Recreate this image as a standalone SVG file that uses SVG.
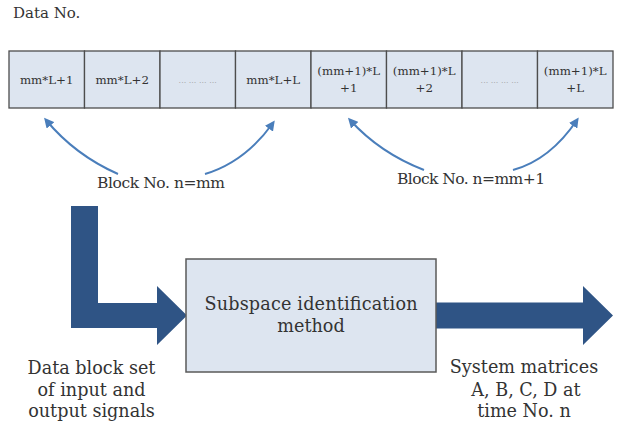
<svg xmlns="http://www.w3.org/2000/svg" width="625" height="428" viewBox="0 0 625 428">
  <style>
    text { font-family: "DejaVu Serif", "Liberation Serif", serif; fill: #333333; }
    .cell rect { fill: #dde5f0; stroke: #4d4d4d; stroke-width: 1.3; }
    .cellText { font-size: 11.8px; text-anchor: middle; }
    .dots { font-size: 8px; text-anchor: middle; fill: #9a9a9a; }
    .label { font-size: 15.5px; text-anchor: middle; }
    .big { font-size: 17.6px; text-anchor: middle; }
    .curve { fill: none; stroke: #4a7ebb; stroke-width: 2; }
    .flow { fill: #2f5485; }
    .box { fill: #dde5f0; stroke: #5a5a5a; stroke-width: 1.5; }
  </style>
  <defs>
    <marker id="tip" viewBox="0 0 10 10" refX="7" refY="5" markerWidth="10" markerHeight="10" markerUnits="userSpaceOnUse" orient="auto">
      <path d="M0,0 L10,5 L0,10 z" fill="#4a7ebb"/>
    </marker>
  </defs>

  <!-- heading -->
  <text id="data-no" x="13" y="18" style="font-size:15px">Data No.</text>

  <!-- data sequence row -->
  <g id="cell-1" class="cell"><rect x="9" y="51" width="75.5" height="57"/><text class="cellText" x="46.7" y="84">mm*L+1</text></g>
  <g id="cell-2" class="cell"><rect x="84.5" y="51" width="75.5" height="57"/><text class="cellText" x="122.2" y="84">mm*L+2</text></g>
  <g id="cell-3" class="cell"><rect x="160" y="51" width="75.5" height="57"/><text class="dots" x="197.7" y="83">... ... ... ...</text></g>
  <g id="cell-4" class="cell"><rect x="235.5" y="51" width="75.5" height="57"/><text class="cellText" x="273.2" y="84">mm*L+L</text></g>
  <g id="cell-5" class="cell"><rect x="311" y="51" width="75.5" height="57"/><text class="cellText" x="348.7" y="75">(mm+1)*L</text><text class="cellText" x="348.7" y="92">+1</text></g>
  <g id="cell-6" class="cell"><rect x="386.5" y="51" width="75.5" height="57"/><text class="cellText" x="424.2" y="75">(mm+1)*L</text><text class="cellText" x="424.2" y="92">+2</text></g>
  <g id="cell-7" class="cell"><rect x="462" y="51" width="75.5" height="57"/><text class="dots" x="499.7" y="83">... ... ... ...</text></g>
  <g id="cell-8" class="cell"><rect x="537.5" y="51" width="75.5" height="57"/><text class="cellText" x="575.2" y="75">(mm+1)*L</text><text class="cellText" x="575.2" y="92">+L</text></g>

  <!-- block labels -->
  <g id="block-mm"><text class="label" x="161" y="188" textLength="128">Block No. n=mm</text></g>
  <g id="block-mm1"><text class="label" x="471" y="184" textLength="148">Block No. n=mm+1</text></g>

  <!-- connectors -->
  <g id="connectors">
    <path class="curve" d="M118,174 Q75,155 46,120" marker-end="url(#tip)"/>
    <path class="curve" d="M205,174 Q245,162 273,123" marker-end="url(#tip)"/>
    <path class="curve" d="M424,170 Q380,153 350,120" marker-end="url(#tip)"/>
    <path class="curve" d="M513,170 Q550,160 577,120" marker-end="url(#tip)"/>
    <polygon class="flow" points="71,206 98,206 98,303 157,303 157,286 187,315.5 157,345 157,328 71,328"/>
    <polygon class="flow" points="436,302.5 583,302.5 583,286 613,315.5 583,345 583,328.5 436,328.5"/>
  </g>

  <!-- processing block -->
  <g id="subspace-method">
    <rect class="box" x="186" y="259" width="250" height="113"/>
    <text class="big" x="311" y="310" textLength="213">Subspace identification</text>
    <text class="big" x="311" y="332">method</text>
  </g>

  <!-- input description -->
  <g id="input-label">
    <text class="big" x="91.5" y="374">Data block set</text>
    <text class="big" x="91.5" y="395.5">of input and</text>
    <text class="big" x="91.5" y="417">output signals</text>
  </g>

  <!-- output description -->
  <g id="output-label">
    <text class="big" x="524" y="373">System matrices</text>
    <text class="big" x="526" y="395.5">A, B, C, D at</text>
    <text class="big" x="524" y="417">time No. n</text>
  </g>
</svg>
